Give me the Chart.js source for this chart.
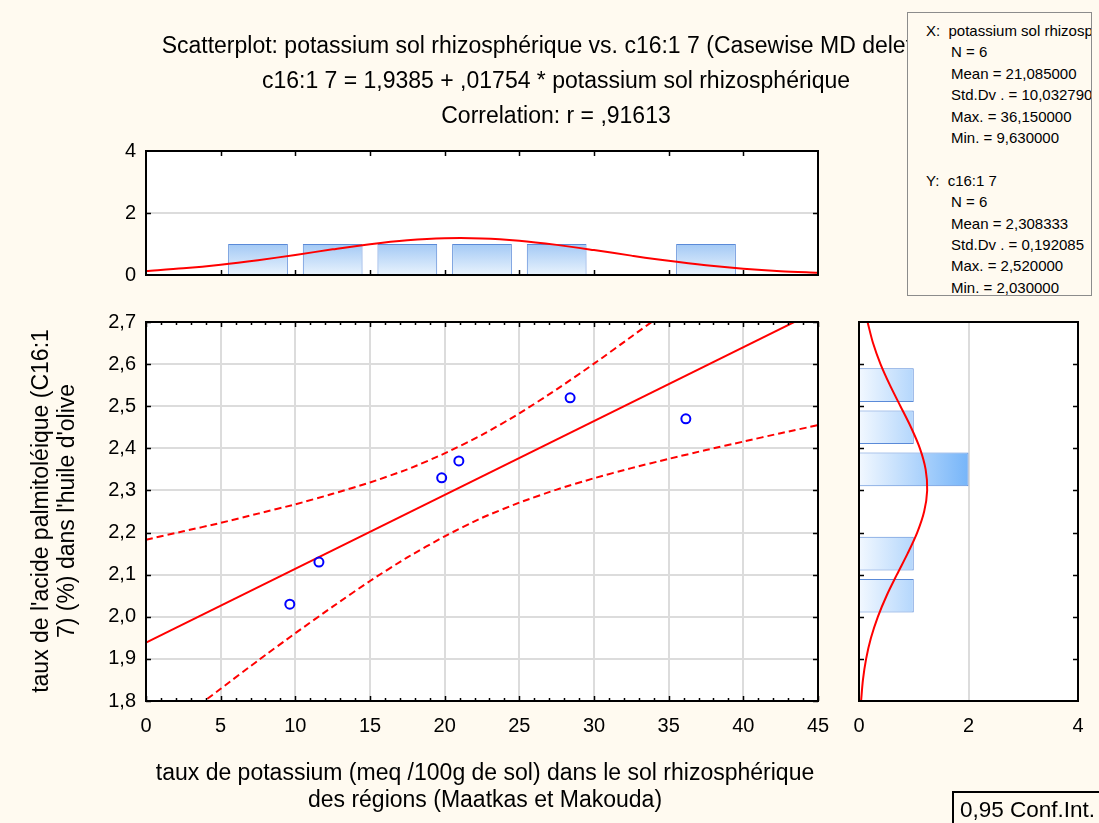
<!DOCTYPE html>
<html>
<head>
<meta charset="utf-8">
<script src="https://cdn.jsdelivr.net/npm/chart.js@4.4.1/dist/chart.umd.min.js"></script>
<style>
  html, body { margin: 0; padding: 0; }
  body { width: 1099px; height: 823px; background: #fffaf0; position: relative; overflow: hidden;
         font-family: 'Liberation Sans', Arial, sans-serif; color: #000; }
  canvas { position: absolute; left: 0; top: 0; }
  .txt { position: absolute; white-space: nowrap; }
  #title { left: 556px; top: 28px; transform: translateX(-50%); font-size: 23px; line-height: 35px; text-align: center; }
  #xtitle { left: 485px; top: 759px; transform: translateX(-50%); font-size: 23px; line-height: 27px; text-align: center; }
  #ytitle { left: -147px; top: 485px; width: 400px; height: 52px; transform: rotate(-90deg); font-size: 23px; line-height: 26px; text-align: center; }
  #stats { position: absolute; left: 907px; top: 12px; width: 185px; height: 284px; border: 1px solid #8c8c8c;
           background: #fffaf0; overflow: hidden; font-size: 15px; line-height: 21.4px; padding-top: 7px; box-sizing: border-box; }
  #stats div { white-space: nowrap; }
  #stats .h { padding-left: 18px; }
  #stats .i { padding-left: 43px; }
  #legend { position: absolute; left: 952px; top: 791px; width: 160px; height: 50px; border: 2px solid #000;
            box-sizing: border-box; font-size: 22.5px; line-height: 34px; padding-left: 6px; }
</style>
</head>
<body>
<canvas id="scatter" width="1099" height="823"></canvas>
<canvas id="histTop" width="1099" height="823"></canvas>
<canvas id="histRight" width="1099" height="823"></canvas>

<div id="title" class="txt">Scatterplot: potassium sol rhizosphérique vs. c16:1 7 (Casewise MD deletion)<br>c16:1 7 = 1,9385 + ,01754 * potassium sol rhizosphérique<br>Correlation: r = ,91613</div>
<div id="xtitle" class="txt">taux de potassium (meq /100g de sol) dans le sol rhizosphérique<br>des régions (Maatkas et Makouda)</div>
<div id="ytitle" class="txt">taux de l'acide palmitoléique (C16:1<br>7) (%) dans l'huile d'olive</div>
<div id="stats">
  <div class="h">X:&nbsp; potassium sol rhizosphérique</div>
  <div class="i">N = 6</div>
  <div class="i">Mean = 21,085000</div>
  <div class="i">Std.Dv . = 10,032790</div>
  <div class="i">Max. = 36,150000</div>
  <div class="i">Min. = 9,630000</div>
  <div>&nbsp;</div>
  <div class="h">Y:&nbsp; c16:1 7</div>
  <div class="i">N = 6</div>
  <div class="i">Mean = 2,308333</div>
  <div class="i">Std.Dv . = 0,192085</div>
  <div class="i">Max. = 2,520000</div>
  <div class="i">Min. = 2,030000</div>
</div>
<div id="legend">0,95 Conf.Int.</div>

<script>
// observations: potassium (x) vs c16:1 7 (y)
var potassium = [9.63, 11.58, 19.8, 20.95, 28.4, 36.15];
var c161 = [2.03, 2.13, 2.33, 2.37, 2.52, 2.47];

// fitted line  c16:1 7 = 1,9385 + ,01754 * x
var fitX = [0, 45];
var fitY = [1.9385, 2.7278];

// 0,95 confidence band, read along x
var bandX = [0, 2.5, 5, 7.5, 10, 12.5, 15, 17.5, 20, 22.5, 25, 27.5, 30, 32.5, 35, 37.5, 40, 42.5, 45];
var bandUpper = [2.183, 2.203, 2.223, 2.245, 2.267, 2.292, 2.319, 2.350, 2.388, 2.432, 2.483, 2.540, 2.601, 2.665, 2.730, 2.797, 2.864, 2.932, 3.001];
var bandLower = [1.694, 1.762, 1.829, 1.896, 1.961, 2.024, 2.085, 2.141, 2.191, 2.235, 2.271, 2.302, 2.329, 2.353, 2.375, 2.396, 2.416, 2.436, 2.455];

// top histogram (x variable)
var topBinCenters = [7.5, 12.5, 17.5, 22.5, 27.5, 37.5];
var topCounts = [1, 1, 1, 1, 1, 1];
var topCurveX = [0, 2.5, 5, 7.5, 10, 12.5, 15, 17.5, 20, 22.5, 25, 27.5, 30, 32.5, 35, 37.5, 40, 42.5, 45];
var topCurveY = [0.131, 0.215, 0.330, 0.477, 0.648, 0.827, 0.993, 1.119, 1.186, 1.181, 1.106, 0.972, 0.804, 0.625, 0.456, 0.313, 0.202, 0.122, 0.070];

// right histogram (y variable)
var rightBinCenters = [2.05, 2.15, 2.35, 2.45, 2.55];
var rightCounts = [1, 1, 2, 1, 1];
var rightCurveY = [1.80, 1.85, 1.90, 1.95, 2.00, 2.05, 2.10, 2.15, 2.20, 2.25, 2.30, 2.35, 2.40, 2.45, 2.50, 2.55, 2.60, 2.65, 2.70];
var rightCurveN = [0.038, 0.072, 0.130, 0.219, 0.344, 0.504, 0.692, 0.887, 1.063, 1.190, 1.245, 1.217, 1.112, 0.949, 0.757, 0.565, 0.393, 0.256, 0.156];

// tick labels
var scatterXTicks = [0, 5, 10, 15, 20, 25, 30, 35, 40, 45];
var scatterYTicks = [1.8, 1.9, 2.0, 2.1, 2.2, 2.3, 2.4, 2.5, 2.6, 2.7];
var countTicks = [0, 2, 4];

var FONT = "'Liberation Sans', Arial, sans-serif";
var GRID = '#dcdcdc';

function pairs(xs, ys) {
  return xs.map(function(x, i) { return { x: x, y: ys[i] }; });
}
function setTicks(list) {
  return function(scale) { scale.ticks = list.map(function(v) { return { value: v }; }); };
}
function comma(v) { return v.toFixed(1).replace('.', ','); }

// white plot area, black frame and inward tick marks (Statistica style)
var framePlugin = {
  id: 'frame',
  beforeDraw: function(chart) {
    var a = chart.chartArea, c = chart.ctx;
    c.save();
    c.fillStyle = '#ffffff';
    c.fillRect(a.left, a.top, a.right - a.left, a.bottom - a.top);
    c.restore();
  },
  afterDraw: function(chart, args, opts) {
    var a = chart.chartArea, c = chart.ctx;
    var xs = chart.scales.x, ys = chart.scales.y;
    c.save();
    c.strokeStyle = '#000';
    c.lineWidth = 1.5;
    c.beginPath();
    (opts.xMinor || []).forEach(function(v) {
      var p = Math.round(xs.getPixelForValue(v)) + 0.5;
      c.moveTo(p, a.bottom); c.lineTo(p, a.bottom - 3);
      c.moveTo(p, a.top); c.lineTo(p, a.top + 3);
    });
    (opts.xMajor || []).forEach(function(v) {
      var p = Math.round(xs.getPixelForValue(v)) + 0.5;
      c.moveTo(p, a.bottom); c.lineTo(p, a.bottom - 5);
      c.moveTo(p, a.top); c.lineTo(p, a.top + 5);
    });
    (opts.yMajor || []).forEach(function(v) {
      var p = Math.round(ys.getPixelForValue(v)) + 0.5;
      c.moveTo(a.left, p); c.lineTo(a.left + 5, p);
      c.moveTo(a.right, p); c.lineTo(a.right - 5, p);
    });
    c.stroke();
    c.lineWidth = 2;
    c.strokeRect(a.left, a.top, a.right - a.left, a.bottom - a.top);
    c.restore();
  }
};

var common = {
  responsive: false,
  animation: false,
  events: [],
  plugins: { legend: { display: false }, tooltip: { enabled: false } }
};

// ---- main scatterplot
var minorX = [];
for (var k = 1; k < 45; k++) { if (k % 5) minorX.push(k); }

new Chart(document.getElementById('scatter'), {
  type: 'scatter',
  data: {
    datasets: [
      { data: pairs(potassium, c161), pointStyle: 'circle', pointRadius: 4.5, borderWidth: 2,
        borderColor: '#0000ff', backgroundColor: 'rgba(0,0,0,0)' },
      { data: pairs(fitX, fitY), showLine: true, pointRadius: 0, borderColor: '#ff0000', borderWidth: 2, clip: 1 },
      { data: pairs(bandX, bandUpper), showLine: true, pointRadius: 0, borderColor: '#ff0000', borderWidth: 2,
        borderDash: [7, 4], tension: 0.2, clip: 1 },
      { data: pairs(bandX, bandLower), showLine: true, pointRadius: 0, borderColor: '#ff0000', borderWidth: 2,
        borderDash: [7, 4], tension: 0.2, clip: 1 }
    ]
  },
  options: Object.assign({}, common, {
    layout: { padding: { left: 100, right: 281, top: 322, bottom: 82 } },
    scales: {
      x: {
        type: 'linear', min: 0, max: 45,
        afterBuildTicks: setTicks(scatterXTicks),
        afterFit: function(s) { s.height = 40; },
        border: { display: false },
        grid: { color: GRID, lineWidth: 2, drawTicks: false },
        ticks: { padding: 13, color: '#000', font: { family: FONT, size: 20 }, maxRotation: 0,
                 callback: function(v) { return String(v); } }
      },
      y: {
        type: 'linear', min: 1.8, max: 2.7,
        afterBuildTicks: setTicks(scatterYTicks),
        afterFit: function(s) { s.width = 46; },
        border: { display: false },
        grid: { color: GRID, lineWidth: 2, drawTicks: false },
        ticks: { padding: 10, color: '#000', font: { family: FONT, size: 20 },
                 callback: function(v) { return comma(v); } }
      }
    },
    plugins: Object.assign({}, common.plugins, {
      frame: { xMajor: scatterXTicks, xMinor: minorX, yMajor: scatterYTicks }
    })
  }),
  plugins: [framePlugin]
});

// ---- top histogram
new Chart(document.getElementById('histTop'), {
  type: 'bar',
  data: {
    datasets: [
      { type: 'line', data: pairs(topCurveX, topCurveY), pointRadius: 0, borderColor: '#ff0000',
        borderWidth: 2, tension: 0.3, clip: 1 },
      { data: pairs(topBinCenters, topCounts), barPercentage: 1, categoryPercentage: 0.8,
        borderColor: '#5a8ad8', borderWidth: 1,
        backgroundColor: function(ctx) {
          var ch = ctx.chart;
          if (!ch.chartArea) return '#bcd8f8';
          var ys = ch.scales.y;
          var g = ch.ctx.createLinearGradient(0, ys.getPixelForValue(1), 0, ys.getPixelForValue(0));
          g.addColorStop(0, '#a3c9f5');
          g.addColorStop(1, '#e9f3fd');
          return g;
        } }
    ]
  },
  options: Object.assign({}, common, {
    layout: { padding: { left: 116, right: 281, top: 151, bottom: 548 } },
    scales: {
      x: { type: 'linear', min: 0, max: 45, offset: false, display: false, grid: { offset: false } },
      y: {
        type: 'linear', min: 0, max: 4,
        afterBuildTicks: setTicks(countTicks),
        afterFit: function(s) { s.width = 30; },
        border: { display: false },
        grid: { color: GRID, lineWidth: 2, drawTicks: false },
        ticks: { padding: 10, color: '#000', font: { family: FONT, size: 20 } }
      }
    },
    plugins: Object.assign({}, common.plugins, {
      frame: { xMajor: [5, 10, 15, 20, 25, 30, 35, 40], yMajor: [2] }
    })
  }),
  plugins: [framePlugin]
});

// ---- right histogram
new Chart(document.getElementById('histRight'), {
  type: 'bar',
  data: {
    datasets: [
      { type: 'line', data: pairs(rightCurveN, rightCurveY), pointRadius: 0, borderColor: '#ff0000',
        borderWidth: 2, tension: 0.3, clip: 1 },
      { data: pairs(rightCounts, rightBinCenters), barPercentage: 1, categoryPercentage: 0.8,
        borderColor: '#5a8ad8', borderWidth: 1,
        backgroundColor: function(ctx) {
          var ch = ctx.chart;
          if (!ch.chartArea) return '#bcd8f8';
          var xs = ch.scales.x;
          var g = ch.ctx.createLinearGradient(xs.getPixelForValue(0), 0, xs.getPixelForValue(2), 0);
          g.addColorStop(0, '#f2f8ff');
          g.addColorStop(1, '#76b5f9');
          return g;
        } }
    ]
  },
  options: Object.assign({}, common, {
    indexAxis: 'y',
    layout: { padding: { left: 859, right: 21, top: 322, bottom: 82 } },
    scales: {
      y: { type: 'linear', min: 1.8, max: 2.7, offset: false, display: false, grid: { offset: false } },
      x: {
        type: 'linear', min: 0, max: 4,
        afterBuildTicks: setTicks(countTicks),
        afterFit: function(s) { s.height = 40; },
        border: { display: false },
        grid: { color: GRID, lineWidth: 2, drawTicks: false },
        ticks: { padding: 13, color: '#000', font: { family: FONT, size: 20 }, maxRotation: 0 }
      }
    },
    plugins: Object.assign({}, common.plugins, {
      frame: { yMajor: scatterYTicks.slice(1, -1) }
    })
  }),
  plugins: [framePlugin]
});
</script>
</body>
</html>
